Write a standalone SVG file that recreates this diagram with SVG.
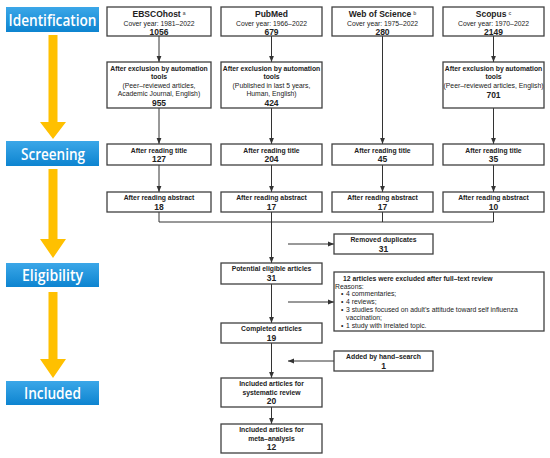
<svg xmlns="http://www.w3.org/2000/svg" width="550" height="458" viewBox="0 0 550 458">
<defs>
<linearGradient id="blue" x1="0" y1="0" x2="0" y2="1">
<stop offset="0" stop-color="#3ba7e8"/>
<stop offset="1" stop-color="#0d84d0"/>
</linearGradient>
<marker id="ah" markerUnits="userSpaceOnUse" markerWidth="6" markerHeight="6" viewBox="0 0 6 6" refX="6" refY="3" orient="auto">
<path d="M0,0.6 L6,3 L0,5.4 Z" fill="#333"/>
</marker>
<style>
.stage rect{fill:url(#blue);}
.stage text{font-family:"Open Sans","Noto Sans",sans-serif;font-size:16px;font-weight:600;fill:#fff;text-anchor:middle;}
.yarrow{fill:#ffc000;}
.box rect{fill:#fff;stroke:#404040;stroke-width:1.3;}
.box text{font-family:"Liberation Sans",Arial,sans-serif;fill:#222;text-anchor:middle;}
.h{font-size:8.5px;font-weight:bold;}
.n{font-size:8.5px;font-weight:bold;}
.b{font-size:6.8px;font-weight:bold;}
.r{font-size:6.8px;}
.sup{font-size:5px;fill:#666;}
.conn line,.conn path{stroke:#333;stroke-width:1;fill:none;}
.lt{text-anchor:start !important;}
</style>
</defs>

<!-- stage labels -->
<g id="stage-identification" class="stage"><rect x="6" y="7" width="93" height="25"/><text x="52.5" y="25.5" textLength="88" lengthAdjust="spacingAndGlyphs">Identification</text></g>
<g id="stage-screening" class="stage"><rect x="6" y="141" width="93" height="25"/><text x="53" y="159.5" textLength="64" lengthAdjust="spacingAndGlyphs">Screening</text></g>
<g id="stage-eligibility" class="stage"><rect x="6" y="263" width="93" height="24"/><text x="52.5" y="280.5" textLength="61" lengthAdjust="spacingAndGlyphs">Eligibility</text></g>
<g id="stage-included" class="stage"><rect x="6" y="381" width="93" height="24"/><text x="52.5" y="399" textLength="57" lengthAdjust="spacingAndGlyphs">Included</text></g>

<g id="stage-arrows">
<path class="yarrow" d="M48.5,35 H57.5 V122 H66 L53,139 L40,122 H48.5 Z"/>
<path class="yarrow" d="M48.5,169 H57.5 V239 H66 L53,258 L40,239 H48.5 Z"/>
<path class="yarrow" d="M48.5,292 H57.5 V359 H66 L53,378 L40,359 H48.5 Z"/>
</g>

<!-- connectors -->
<g id="connectors" class="conn">
<line x1="159" y1="36" x2="159" y2="62" marker-end="url(#ah)"/>
<line x1="271.5" y1="36" x2="271.5" y2="62" marker-end="url(#ah)"/>
<line x1="382.5" y1="36" x2="382.5" y2="144" marker-end="url(#ah)"/>
<line x1="493.5" y1="36" x2="493.5" y2="62" marker-end="url(#ah)"/>
<line x1="159" y1="108" x2="159" y2="144" marker-end="url(#ah)"/>
<line x1="271.5" y1="108" x2="271.5" y2="144" marker-end="url(#ah)"/>
<line x1="493.5" y1="108" x2="493.5" y2="144" marker-end="url(#ah)"/>
<line x1="159" y1="165" x2="159" y2="192" marker-end="url(#ah)"/>
<line x1="271.5" y1="165" x2="271.5" y2="192" marker-end="url(#ah)"/>
<line x1="382.5" y1="165" x2="382.5" y2="192" marker-end="url(#ah)"/>
<line x1="493.5" y1="165" x2="493.5" y2="192" marker-end="url(#ah)"/>
<path d="M159,212 V222 H493.5 V212 M382.5,212 V222"/>
<line x1="271.5" y1="212" x2="271.5" y2="263" marker-end="url(#ah)"/>
<line x1="288" y1="244" x2="334" y2="244" marker-end="url(#ah)"/>
<line x1="271.5" y1="284" x2="271.5" y2="323" marker-end="url(#ah)"/>
<line x1="288" y1="302" x2="334" y2="302" marker-end="url(#ah)"/>
<line x1="271.5" y1="343" x2="271.5" y2="378" marker-end="url(#ah)"/>
<line x1="334" y1="361" x2="288" y2="361" marker-end="url(#ah)"/>
<line x1="271.5" y1="407" x2="271.5" y2="424" marker-end="url(#ah)"/>
</g>

<!-- row 1: databases -->
<g id="ebsco" class="box"><rect x="107" y="7" width="104" height="29"/>
<text x="159" y="17" class="h">EBSCOhost<tspan class="sup" dx="2" dy="-2.5">a</tspan></text>
<text x="159" y="26" class="r">Cover year: 1981–2022</text>
<text x="159" y="34.5" class="n">1056</text></g>
<g id="pubmed" class="box"><rect x="221" y="7" width="101" height="29"/>
<text x="271.5" y="17" class="h">PubMed</text>
<text x="271.5" y="26" class="r">Cover year: 1966–2022</text>
<text x="271.5" y="34.5" class="n">679</text></g>
<g id="wos" class="box"><rect x="332" y="7" width="101" height="29"/>
<text x="382.5" y="17" class="h">Web of Science<tspan class="sup" dx="2" dy="-2.5">b</tspan></text>
<text x="382.5" y="26" class="r">Cover year: 1975–2022</text>
<text x="382.5" y="34.5" class="n">280</text></g>
<g id="scopus" class="box"><rect x="443" y="7" width="101" height="29"/>
<text x="493.5" y="17" class="h">Scopus<tspan class="sup" dx="2" dy="-2.5">c</tspan></text>
<text x="493.5" y="26" class="r">Cover year: 1970–2022</text>
<text x="493.5" y="34.5" class="n">2149</text></g>

<!-- row 2: automation exclusion -->
<g id="ebsco-auto" class="box"><rect x="107" y="62" width="104" height="46"/>
<text x="159" y="70.5" class="b">After exclusion by automation</text>
<text x="159" y="79" class="b">tools</text>
<text x="159" y="87.5" class="r">(Peer–reviewed articles,</text>
<text x="159" y="96" class="r">Academic Journal, English)</text>
<text x="159" y="106" class="n">955</text></g>
<g id="pubmed-auto" class="box"><rect x="221" y="62" width="101" height="46"/>
<text x="271.5" y="70.5" class="b">After exclusion by automation</text>
<text x="271.5" y="79" class="b">tools</text>
<text x="271.5" y="87.5" class="r">(Published in last 5 years,</text>
<text x="271.5" y="96" class="r">Human, English)</text>
<text x="271.5" y="106" class="n">424</text></g>
<g id="scopus-auto" class="box"><rect x="443" y="62" width="101" height="46"/>
<text x="493.5" y="70.5" class="b">After exclusion by automation</text>
<text x="493.5" y="79" class="b">tools</text>
<text x="493.5" y="87.5" class="r" textLength="100" lengthAdjust="spacingAndGlyphs">(Peer–reviewed articles, English)</text>
<text x="493.5" y="98" class="n">701</text></g>

<!-- row 3: title -->
<g id="ebsco-title" class="box"><rect x="107" y="144" width="104" height="21"/>
<text x="159" y="152.5" class="b">After reading title</text><text x="159" y="162" class="n">127</text></g>
<g id="pubmed-title" class="box"><rect x="221" y="144" width="101" height="21"/>
<text x="271.5" y="152.5" class="b">After reading title</text><text x="271.5" y="162" class="n">204</text></g>
<g id="wos-title" class="box"><rect x="332" y="144" width="101" height="21"/>
<text x="382.5" y="152.5" class="b">After reading title</text><text x="382.5" y="162" class="n">45</text></g>
<g id="scopus-title" class="box"><rect x="443" y="144" width="101" height="21"/>
<text x="493.5" y="152.5" class="b">After reading title</text><text x="493.5" y="162" class="n">35</text></g>

<!-- row 4: abstract -->
<g id="ebsco-abs" class="box"><rect x="107" y="192" width="104" height="20"/>
<text x="159" y="200" class="b">After reading abstract</text><text x="159" y="209.5" class="n">18</text></g>
<g id="pubmed-abs" class="box"><rect x="221" y="192" width="101" height="20"/>
<text x="271.5" y="200" class="b">After reading abstract</text><text x="271.5" y="209.5" class="n">17</text></g>
<g id="wos-abs" class="box"><rect x="332" y="192" width="101" height="20"/>
<text x="382.5" y="200" class="b">After reading abstract</text><text x="382.5" y="209.5" class="n">17</text></g>
<g id="scopus-abs" class="box"><rect x="443" y="192" width="101" height="20"/>
<text x="493.5" y="200" class="b">After reading abstract</text><text x="493.5" y="209.5" class="n">10</text></g>

<!-- lower flow -->
<g id="duplicates" class="box"><rect x="334" y="234" width="99" height="20"/>
<text x="383.5" y="242" class="b">Removed duplicates</text><text x="383.5" y="251.5" class="n">31</text></g>
<g id="potential" class="box"><rect x="221" y="263" width="101" height="21"/>
<text x="271.5" y="271" class="b">Potential eligible articles</text><text x="271.5" y="281" class="n">31</text></g>
<g id="excluded" class="box"><rect x="334" y="272" width="210" height="59"/>
<text x="343" y="280.5" class="b lt">12 articles were excluded after full–text review</text>
<text x="335" y="288.5" class="r lt">Reasons:</text>
<text x="341" y="296" class="r lt">•<tspan x="346">4 commentaries;</tspan></text>
<text x="341" y="304" class="r lt">•<tspan x="346">4 reviews;</tspan></text>
<text x="341" y="312" class="r lt">•<tspan x="346">3 studies focused on adult’s attitude toward self influenza</tspan></text>
<text x="346" y="320" class="r lt">vaccination;</text>
<text x="341" y="328" class="r lt">•<tspan x="346">1 study with irrelated topic.</tspan></text></g>
<g id="completed" class="box"><rect x="221" y="323" width="101" height="20"/>
<text x="271.5" y="331" class="b">Completed articles</text><text x="271.5" y="341" class="n">19</text></g>
<g id="handsearch" class="box"><rect x="334" y="351" width="99" height="20"/>
<text x="383.5" y="359" class="b">Added by hand–search</text><text x="383.5" y="368.5" class="n">1</text></g>
<g id="systematic" class="box"><rect x="221" y="378" width="101" height="29"/>
<text x="271.5" y="386" class="b">Included articles for</text>
<text x="271.5" y="394.5" class="b">systematic review</text>
<text x="271.5" y="404" class="n">20</text></g>
<g id="meta" class="box"><rect x="221" y="424" width="101" height="29"/>
<text x="271.5" y="432" class="b">Included articles for</text>
<text x="271.5" y="440.5" class="b">meta–analysis</text>
<text x="271.5" y="450" class="n">12</text></g>
</svg>
